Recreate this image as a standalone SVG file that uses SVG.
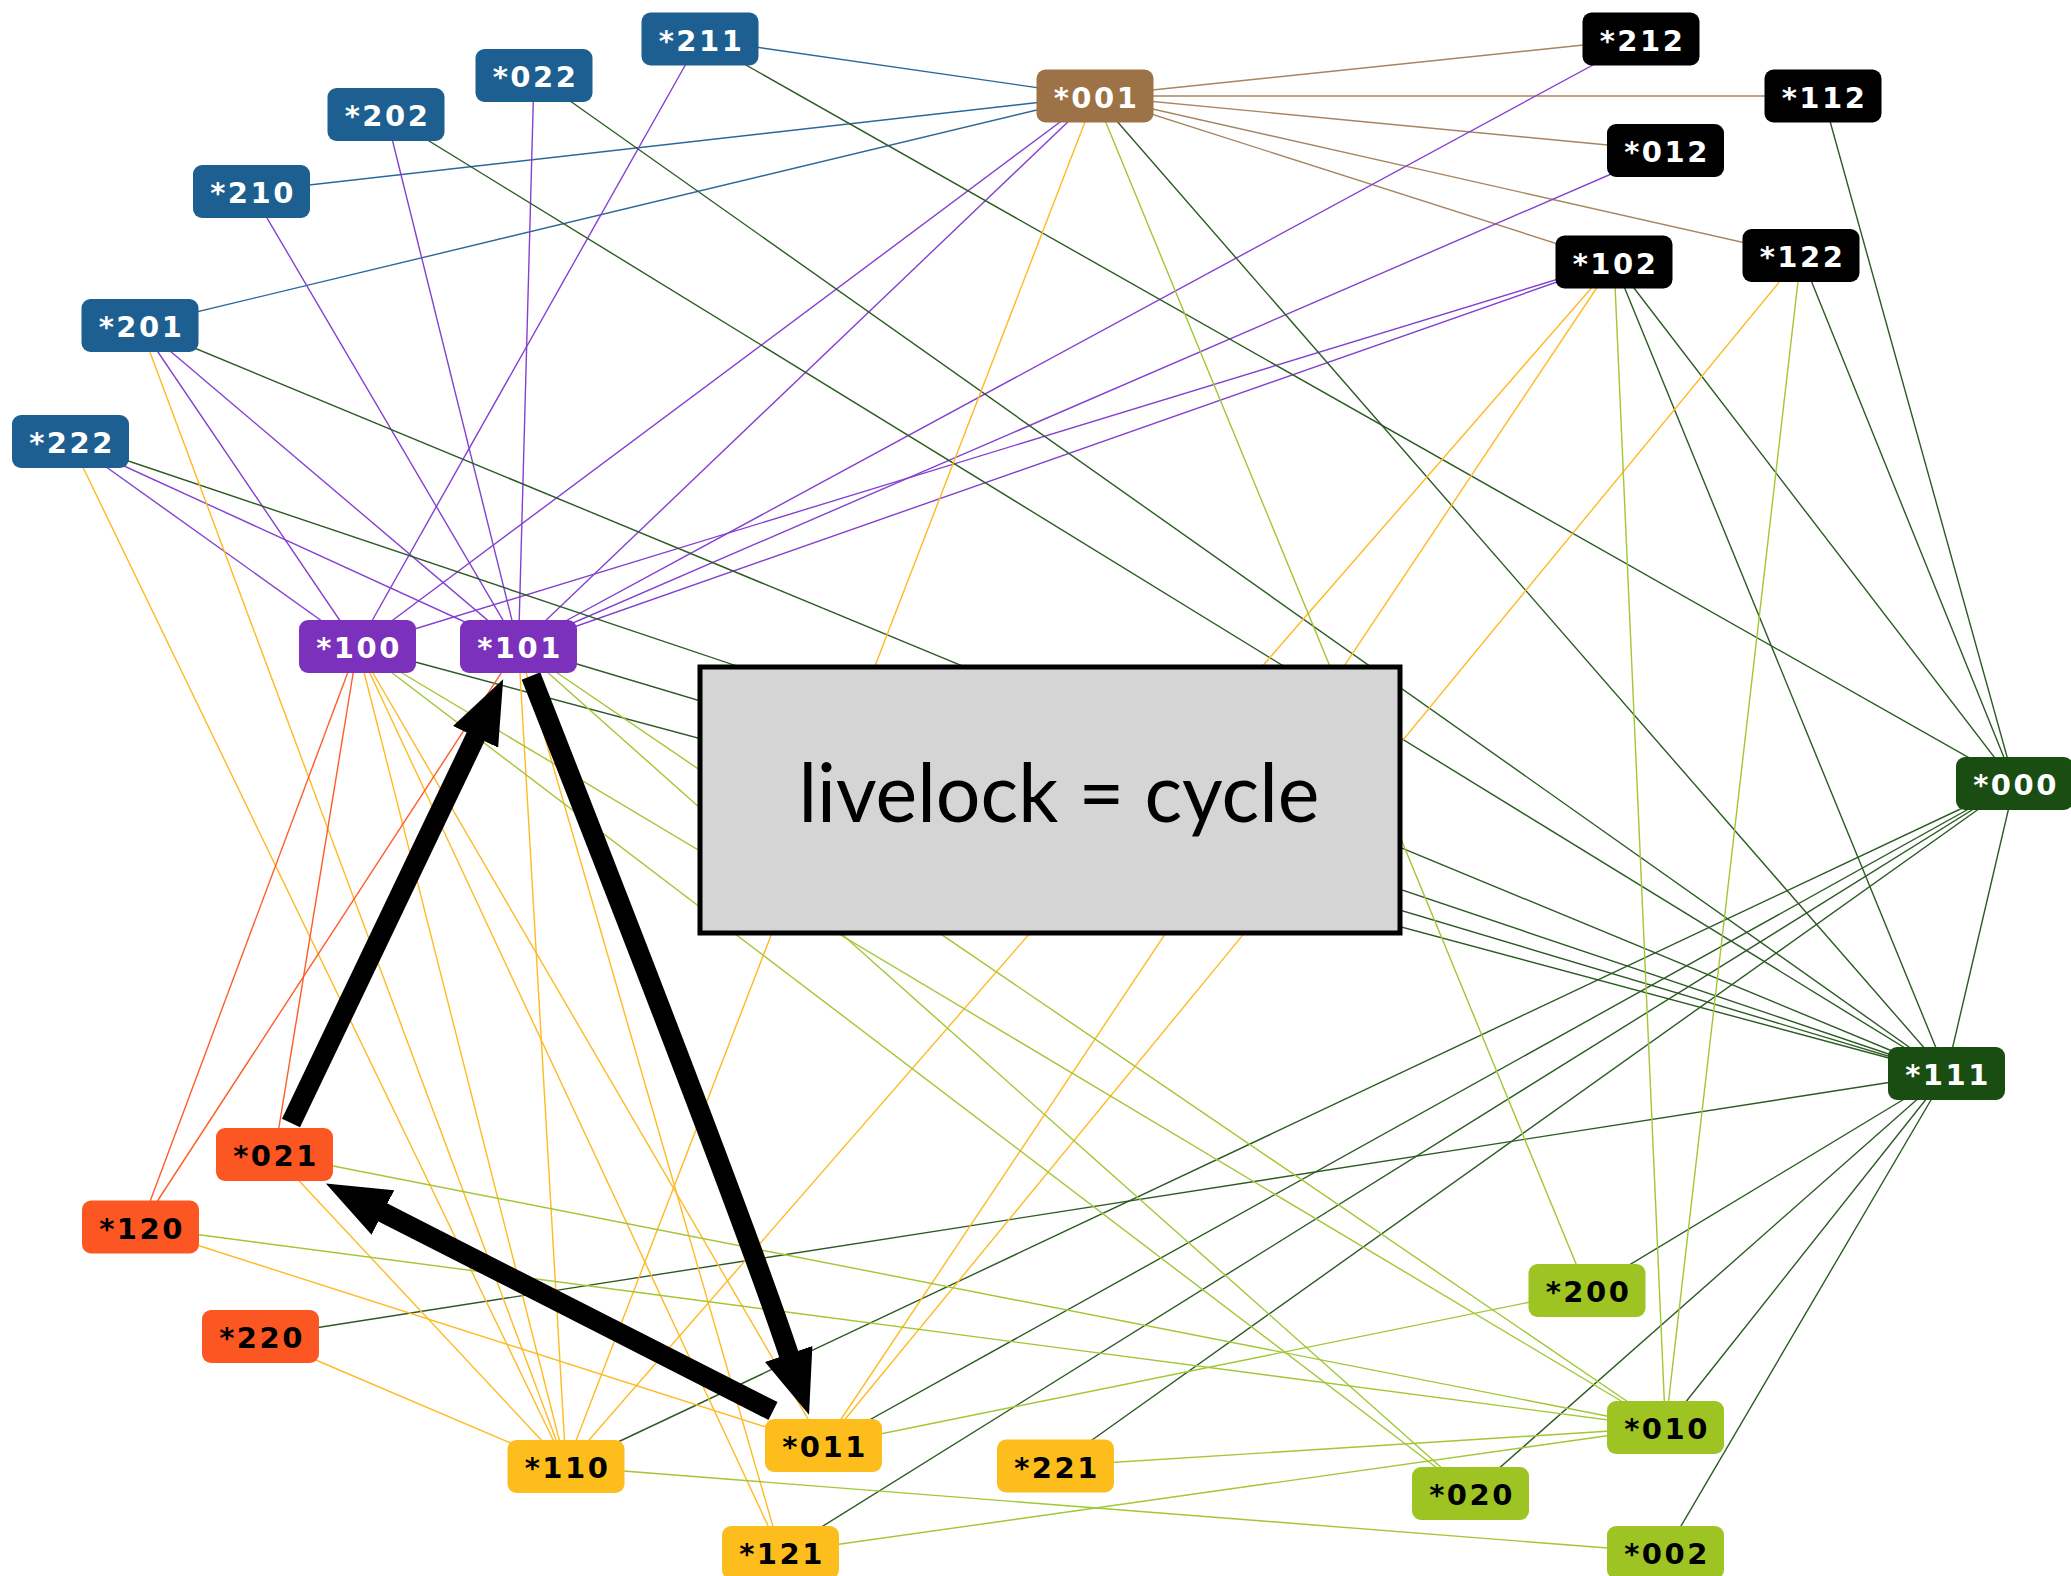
<svg xmlns="http://www.w3.org/2000/svg" width="2071" height="1576" viewBox="0 0 2071 1576">
<style>
.e{fill:none;stroke-width:1.4}
.bl{stroke:#2b679a}.br{stroke:#a9845f}.pu{stroke:#8441d0}.dg{stroke:#2b5b23}.ye{stroke:#ffba22}.rd{stroke:#ff5c28}.li{stroke:#a2c634}
.arr{fill:none;stroke:#000;stroke-width:20;marker-end:url(#ah)}
.n rect{width:117px;height:53px;rx:9px;ry:9px}
.n text{font-family:"DejaVu Sans","Noto Sans",sans-serif;font-weight:700;font-size:29px;letter-spacing:2.5px;text-anchor:middle}
.cB rect{fill:#1d5f90}.cN rect{fill:#9c7246}.cK rect{fill:#000}.cP rect{fill:#7c31bc}.cG rect{fill:#1a4d12}
.cR rect{fill:#fc5722}.cY rect{fill:#fdbd1d}.cL rect{fill:#9dc423}
.cB text,.cN text,.cK text,.cP text,.cG text{fill:#fff}
.cR text,.cY text,.cL text{fill:#000}
</style>
<defs>
<marker id="ah" markerUnits="userSpaceOnUse" markerWidth="64" markerHeight="50" viewBox="0 0 64 50" refX="1" refY="25" orient="auto">
<path d="M0,0 L64,25 L0,50 z" fill="#000"/>
</marker>
</defs>
<rect width="2071" height="1576" fill="#fff"/>
<g id="connectors">
<line class="e bl" x1="700" y1="39" x2="1095" y2="96"/>
<line class="e bl" x1="251.5" y1="191.5" x2="1095" y2="96"/>
<line class="e bl" x1="140" y1="325.5" x2="1095" y2="96"/>
<line class="e br" x1="1095" y1="96" x2="1641" y2="39"/>
<line class="e br" x1="1095" y1="96" x2="1823" y2="96"/>
<line class="e br" x1="1095" y1="96" x2="1665.5" y2="150.5"/>
<line class="e br" x1="1095" y1="96" x2="1801" y2="255.5"/>
<line class="e br" x1="1095" y1="96" x2="1614" y2="262"/>
<line class="e pu" x1="700" y1="39" x2="357.5" y2="646.5"/>
<line class="e pu" x1="251.5" y1="191.5" x2="518.5" y2="646.5"/>
<line class="e pu" x1="386" y1="114.5" x2="518.5" y2="646.5"/>
<line class="e pu" x1="534" y1="75.5" x2="518.5" y2="646.5"/>
<line class="e pu" x1="140" y1="325.5" x2="357.5" y2="646.5"/>
<line class="e pu" x1="140" y1="325.5" x2="518.5" y2="646.5"/>
<line class="e pu" x1="70.5" y1="441.5" x2="357.5" y2="646.5"/>
<line class="e pu" x1="70.5" y1="441.5" x2="518.5" y2="646.5"/>
<line class="e pu" x1="1095" y1="96" x2="357.5" y2="646.5"/>
<line class="e pu" x1="1095" y1="96" x2="518.5" y2="646.5"/>
<line class="e pu" x1="1641" y1="39" x2="518.5" y2="646.5"/>
<line class="e pu" x1="1665.5" y1="150.5" x2="518.5" y2="646.5"/>
<line class="e pu" x1="1614" y1="262" x2="518.5" y2="646.5"/>
<line class="e pu" x1="1614" y1="262" x2="357.5" y2="646.5"/>
<line class="e dg" x1="700" y1="39" x2="2014.5" y2="783.5"/>
<line class="e dg" x1="534" y1="75.5" x2="1946.5" y2="1073.5"/>
<line class="e dg" x1="386" y1="114.5" x2="1946.5" y2="1073.5"/>
<line class="e dg" x1="140" y1="325.5" x2="1946.5" y2="1073.5"/>
<line class="e dg" x1="70.5" y1="441.5" x2="1946.5" y2="1073.5"/>
<line class="e dg" x1="1095" y1="96" x2="1946.5" y2="1073.5"/>
<line class="e dg" x1="1823" y1="96" x2="2014.5" y2="783.5"/>
<line class="e dg" x1="1801" y1="255.5" x2="2014.5" y2="783.5"/>
<line class="e dg" x1="1614" y1="262" x2="2014.5" y2="783.5"/>
<line class="e dg" x1="1614" y1="262" x2="1946.5" y2="1073.5"/>
<line class="e dg" x1="357.5" y1="646.5" x2="1946.5" y2="1073.5"/>
<line class="e dg" x1="518.5" y1="646.5" x2="1946.5" y2="1073.5"/>
<line class="e dg" x1="2014.5" y1="783.5" x2="1946.5" y2="1073.5"/>
<line class="e dg" x1="2014.5" y1="783.5" x2="566" y2="1466.5"/>
<line class="e dg" x1="2014.5" y1="783.5" x2="780.5" y2="1552.5"/>
<line class="e dg" x1="2014.5" y1="783.5" x2="823.5" y2="1445.5"/>
<line class="e dg" x1="2014.5" y1="783.5" x2="1055.5" y2="1466"/>
<line class="e dg" x1="260.5" y1="1336.5" x2="1946.5" y2="1073.5"/>
<line class="e dg" x1="1587" y1="1290.5" x2="1946.5" y2="1073.5"/>
<line class="e dg" x1="1470.5" y1="1493.5" x2="1946.5" y2="1073.5"/>
<line class="e dg" x1="1665.5" y1="1427.5" x2="1946.5" y2="1073.5"/>
<line class="e dg" x1="1665.5" y1="1552.5" x2="1946.5" y2="1073.5"/>
<line class="e ye" x1="1095" y1="96" x2="566" y2="1466.5"/>
<line class="e ye" x1="1801" y1="255.5" x2="823.5" y2="1445.5"/>
<line class="e ye" x1="1614" y1="262" x2="566" y2="1466.5"/>
<line class="e ye" x1="1614" y1="262" x2="823.5" y2="1445.5"/>
<line class="e ye" x1="140" y1="325.5" x2="566" y2="1466.5"/>
<line class="e ye" x1="70.5" y1="441.5" x2="566" y2="1466.5"/>
<line class="e ye" x1="357.5" y1="646.5" x2="566" y2="1466.5"/>
<line class="e ye" x1="518.5" y1="646.5" x2="566" y2="1466.5"/>
<line class="e ye" x1="357.5" y1="646.5" x2="780.5" y2="1552.5"/>
<line class="e ye" x1="357.5" y1="646.5" x2="823.5" y2="1445.5"/>
<line class="e ye" x1="518.5" y1="646.5" x2="780.5" y2="1552.5"/>
<line class="e ye" x1="274.5" y1="1154.5" x2="566" y2="1466.5"/>
<line class="e ye" x1="260.5" y1="1336.5" x2="566" y2="1466.5"/>
<line class="e ye" x1="140.5" y1="1227" x2="823.5" y2="1445.5"/>
<line class="e rd" x1="357.5" y1="646.5" x2="140.5" y2="1227"/>
<line class="e rd" x1="357.5" y1="646.5" x2="274.5" y2="1154.5"/>
<line class="e rd" x1="518.5" y1="646.5" x2="140.5" y2="1227"/>
<line class="e li" x1="1095" y1="96" x2="1587" y2="1290.5"/>
<line class="e li" x1="1801" y1="255.5" x2="1665.5" y2="1427.5"/>
<line class="e li" x1="1614" y1="262" x2="1665.5" y2="1427.5"/>
<line class="e li" x1="357.5" y1="646.5" x2="1470.5" y2="1493.5"/>
<line class="e li" x1="518.5" y1="646.5" x2="1470.5" y2="1493.5"/>
<line class="e li" x1="357.5" y1="646.5" x2="1665.5" y2="1427.5"/>
<line class="e li" x1="518.5" y1="646.5" x2="1665.5" y2="1427.5"/>
<line class="e li" x1="274.5" y1="1154.5" x2="1665.5" y2="1427.5"/>
<line class="e li" x1="140.5" y1="1227" x2="1665.5" y2="1427.5"/>
<line class="e li" x1="1055.5" y1="1466" x2="1665.5" y2="1427.5"/>
<line class="e li" x1="780.5" y1="1552.5" x2="1665.5" y2="1427.5"/>
<line class="e li" x1="823.5" y1="1445.5" x2="1587" y2="1290.5"/>
<line class="e li" x1="566" y1="1466.5" x2="1665.5" y2="1552.5"/>
<path class="arr" d="M291,1123 L476,736"/>
<path class="arr" d="M531,676 Q736,1197 789,1355"/>
<path class="arr" d="M773,1411 L382,1212"/>
</g>
<g id="n211" class="n cB"><rect x="641.5" y="12.5"/><text x="701.5" y="50.5">*211</text></g>
<g id="n022" class="n cB"><rect x="475.5" y="49"/><text x="535.5" y="87">*022</text></g>
<g id="n202" class="n cB"><rect x="327.5" y="88"/><text x="387.5" y="126">*202</text></g>
<g id="n210" class="n cB"><rect x="193" y="165"/><text x="253" y="203">*210</text></g>
<g id="n201" class="n cB"><rect x="81.5" y="299"/><text x="141.5" y="337">*201</text></g>
<g id="n222" class="n cB"><rect x="12" y="415"/><text x="72" y="453">*222</text></g>
<g id="n001" class="n cN"><rect x="1036.5" y="69.5"/><text x="1096.5" y="107.5">*001</text></g>
<g id="n212" class="n cK"><rect x="1582.5" y="12.5"/><text x="1642.5" y="50.5">*212</text></g>
<g id="n112" class="n cK"><rect x="1764.5" y="69.5"/><text x="1824.5" y="107.5">*112</text></g>
<g id="n012" class="n cK"><rect x="1607" y="124"/><text x="1667" y="162">*012</text></g>
<g id="n102" class="n cK"><rect x="1555.5" y="235.5"/><text x="1615.5" y="273.5">*102</text></g>
<g id="n122" class="n cK"><rect x="1742.5" y="229"/><text x="1802.5" y="267">*122</text></g>
<g id="n100" class="n cP"><rect x="299" y="620"/><text x="359" y="658">*100</text></g>
<g id="n101" class="n cP"><rect x="460" y="620"/><text x="520" y="658">*101</text></g>
<g id="n000" class="n cG"><rect x="1956" y="757"/><text x="2016" y="795">*000</text></g>
<g id="n111" class="n cG"><rect x="1888" y="1047"/><text x="1948" y="1085">*111</text></g>
<g id="n021" class="n cR"><rect x="216" y="1128"/><text x="276" y="1166">*021</text></g>
<g id="n120" class="n cR"><rect x="82" y="1200.5"/><text x="142" y="1238.5">*120</text></g>
<g id="n220" class="n cR"><rect x="202" y="1310"/><text x="262" y="1348">*220</text></g>
<g id="n200" class="n cL"><rect x="1528.5" y="1264"/><text x="1588.5" y="1302">*200</text></g>
<g id="n010" class="n cL"><rect x="1607" y="1401"/><text x="1667" y="1439">*010</text></g>
<g id="n020" class="n cL"><rect x="1412" y="1467"/><text x="1472" y="1505">*020</text></g>
<g id="n002" class="n cL"><rect x="1607" y="1526"/><text x="1667" y="1564">*002</text></g>
<g id="n011" class="n cY"><rect x="765" y="1419"/><text x="825" y="1457">*011</text></g>
<g id="n110" class="n cY"><rect x="507.5" y="1440"/><text x="567.5" y="1478">*110</text></g>
<g id="n221" class="n cY"><rect x="997" y="1439.5"/><text x="1057" y="1477.5">*221</text></g>
<g id="n121" class="n cY"><rect x="722" y="1526"/><text x="782" y="1564">*121</text></g>
<g id="livelock">
<rect x="700" y="667" width="700" height="266" fill="#d5d5d5" stroke="#000" stroke-width="5"/>
<text x="1059" y="822" font-family="Lato, 'Open Sans', sans-serif" font-size="82" text-anchor="middle" textLength="521" lengthAdjust="spacingAndGlyphs" fill="#000">livelock = cycle</text>
</g>
</svg>
